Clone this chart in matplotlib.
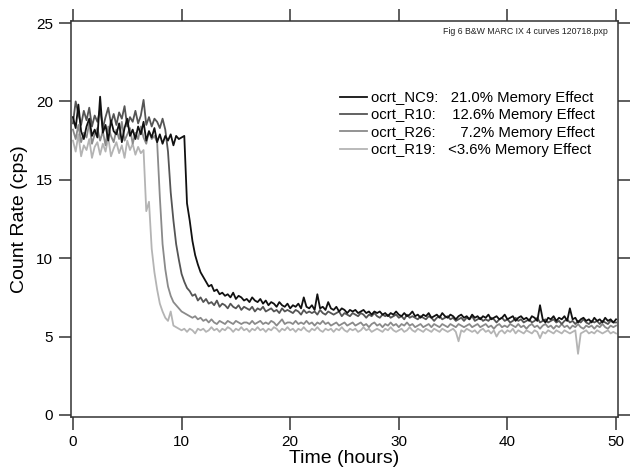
import numpy as np
import matplotlib
matplotlib.use("Agg")
import matplotlib.pyplot as plt

plt.rcParams['font.family'] = ['Liberation Sans', 'DejaVu Sans']

# time axis: readings every 0.25 h from 0 to 50 h
time_h = np.arange(201) * 0.25

# count rates (cps), 2 hours per row
ocrt_NC9 = [
    19.0, 18.3, 19.8, 18.1, 17.6, 18.4, 18.9, 17.8,
    18.2, 17.7, 20.3, 18.0, 18.5, 17.5, 18.8, 18.1,
    17.9, 18.6, 17.4, 18.3, 18.9, 17.8, 18.2, 17.6,
    18.4, 17.9, 18.7, 17.5, 18.1, 17.7, 18.3, 17.4,
    17.9, 17.3, 17.8, 17.5, 17.9, 17.2, 17.8, 17.6,
    17.7, 17.8, 13.5, 12.4, 11.1, 10.2, 9.6, 9.1,
    8.8, 8.5, 8.2, 8.3, 7.9, 8.0, 7.7, 7.8,
    7.6, 7.7, 7.5, 7.8, 7.4, 7.6, 7.5, 7.3,
    7.4, 7.2, 7.5, 7.3, 7.2, 7.4, 7.1, 7.3,
    7.0, 7.2, 7.1, 6.9, 7.2, 7.0, 6.9, 7.1,
    6.8, 7.0, 6.9, 7.1, 6.8, 7.5, 6.9, 6.8,
    7.0, 6.7, 7.7, 6.8, 6.9, 6.7, 7.2, 6.8,
    6.7, 6.9, 6.6, 6.8, 6.7, 6.5, 6.7, 6.6,
    6.7, 6.5, 6.6, 6.7, 6.5, 6.6, 6.4, 6.6,
    6.5, 6.6, 6.4, 6.5, 6.3, 6.5, 6.4, 6.6,
    6.4, 6.3, 6.5, 6.3, 6.4, 6.6, 6.3, 6.4,
    6.2, 6.4, 6.3, 6.5, 6.2, 6.3, 6.4, 6.2,
    6.5, 6.3, 6.2, 6.4, 6.3, 6.1, 6.3, 6.4,
    6.2, 6.3, 6.1, 6.4, 6.2, 6.3, 6.1, 6.3,
    6.2, 6.4, 6.1, 6.2, 6.3, 6.1, 6.2, 6.4,
    6.1, 6.2, 6.3, 6.0, 6.2, 6.3, 6.1, 6.2,
    6.0, 6.3, 6.2, 6.0, 7.0, 6.1, 5.9, 6.2,
    6.1, 6.3, 6.0, 6.2, 6.1, 6.3, 6.0, 6.8,
    6.1, 6.2, 5.9, 6.1, 6.2, 6.0, 6.1, 5.9,
    6.2, 6.0, 6.1, 5.9, 6.2, 6.0, 6.1, 5.9,
    6.1,
]

ocrt_R10 = [
    18.6, 20.0, 19.2, 18.5, 19.4, 18.8, 19.6, 18.4,
    19.1, 18.7, 19.5, 18.3, 19.0, 19.6, 18.6, 19.2,
    18.5, 19.3, 18.9, 19.7, 18.4, 19.0, 18.7, 19.4,
    18.6, 19.1, 20.1, 18.5, 19.0, 18.4, 18.9, 18.7,
    18.3, 18.9, 18.2, 16.8, 14.2, 12.4, 10.9, 9.9,
    9.0, 8.5, 8.1, 7.9, 7.6, 7.7, 7.3, 7.5,
    7.2, 7.4, 7.1, 7.2, 7.0, 7.3, 6.9, 7.1,
    7.0, 6.8, 7.1, 6.9, 6.8, 7.0, 6.7, 6.9,
    6.8, 6.7, 6.9, 6.6, 6.8, 6.7, 6.9, 6.6,
    6.7, 6.8, 6.6, 6.7, 6.5, 6.8, 6.6, 6.7,
    6.6, 6.5, 6.7, 6.6, 6.4, 6.7, 6.5, 6.6,
    6.5, 6.6, 6.4, 6.7, 6.5, 6.4, 6.6, 6.5,
    6.4, 6.5, 6.6, 6.3, 6.5, 6.4, 6.3, 6.5,
    6.4, 6.3, 6.5, 6.4, 6.2, 6.4, 6.3, 6.5,
    6.3, 6.2, 6.4, 6.3, 6.4, 6.2, 6.3, 6.4,
    6.2, 6.3, 6.1, 6.4, 6.2, 6.3, 6.2, 6.1,
    6.3, 6.2, 6.1, 6.3, 6.2, 6.0, 6.2, 6.3,
    6.1, 6.2, 6.3, 6.1, 6.2, 6.0, 6.1, 6.2,
    6.0, 6.2, 6.1, 6.3, 6.0, 6.1, 6.2, 6.0,
    6.1, 6.0, 6.2, 6.1, 5.9, 6.1, 6.2, 6.0,
    6.1, 5.9, 6.0, 6.2, 6.0, 6.1, 5.9, 6.0,
    6.1, 5.9, 6.0, 6.2, 5.9, 6.0, 6.1, 5.9,
    6.0, 6.1, 5.9, 6.0, 5.8, 6.0, 6.1, 5.9,
    6.0, 5.8, 6.0, 5.9, 6.1, 5.9, 5.8, 6.0,
    5.9, 6.0, 5.8, 6.0, 5.9, 5.8, 6.0, 5.9,
    5.9,
]

ocrt_R26 = [
    18.2, 17.6, 18.5, 17.4, 18.0, 17.7, 18.6, 17.3,
    17.9, 18.3, 17.5, 18.1, 17.2, 18.4, 17.8, 17.4,
    18.2, 17.6, 18.7, 17.5, 17.9, 18.3, 17.3, 18.0,
    17.6, 18.4, 17.7, 17.3, 18.1, 17.6, 17.8, 17.4,
    13.9, 10.9, 9.3, 8.2, 7.6, 7.2, 7.0, 6.8,
    6.6, 6.5, 6.4, 6.3, 6.2, 6.3, 6.1, 6.2,
    6.0, 6.1, 5.9, 6.1, 5.9, 5.8, 6.0, 5.9,
    5.8, 6.0, 5.9, 5.8, 6.0, 5.9, 5.8, 5.9,
    5.9, 5.8, 6.0, 5.8, 5.9, 6.0, 5.8, 5.9,
    5.8, 6.0, 5.9, 5.7, 5.9, 6.1, 5.8, 5.9,
    5.9, 5.8, 6.0, 5.8, 5.9, 5.8, 6.0, 5.8,
    5.9, 5.7, 5.9, 5.8, 6.0, 5.8, 5.9, 5.7,
    5.8, 5.9, 5.7, 5.8, 5.9, 5.7, 5.8, 5.9,
    5.7, 5.8, 5.9, 5.7, 5.8, 5.6, 5.8, 5.9,
    5.7, 5.8, 5.6, 5.8, 5.7, 5.9, 5.7, 5.8,
    5.6, 5.8, 5.7, 5.9, 5.7, 5.8, 5.6, 5.7,
    5.8, 5.6, 5.7, 5.8, 5.6, 5.8, 5.7, 5.6,
    5.8, 5.7, 5.6, 5.8, 5.7, 5.6, 5.8, 5.7,
    5.6, 5.7, 5.8, 5.6, 5.7, 5.8, 5.6, 5.7,
    5.8, 5.6, 5.7, 5.5, 5.7, 5.8, 5.6, 5.7,
    5.6, 5.8, 5.7, 5.6, 5.8, 5.6, 5.7, 5.5,
    5.7, 5.8, 5.6, 5.7, 5.5, 5.7, 5.8, 5.6,
    5.7, 5.5, 5.7, 5.6, 5.8, 5.6, 5.7, 5.5,
    5.7, 5.6, 5.8, 5.6, 5.5, 5.7, 5.6, 5.7,
    5.5, 5.7, 5.6, 5.8, 5.6, 5.5, 5.7, 5.6,
    5.7,
]

ocrt_R19 = [
    17.5, 16.8, 17.9, 16.5, 17.2, 16.9, 17.6, 16.4,
    17.1, 17.4, 16.6, 17.3, 16.8, 17.7, 16.5, 17.0,
    17.4, 16.7, 17.2, 16.4, 17.5, 16.9, 17.3, 16.6,
    17.1, 16.7, 16.9, 13.0, 13.6, 10.6, 9.1, 8.0,
    7.1, 6.6, 6.2, 6.0, 6.6, 5.7, 5.6, 5.5,
    5.4, 5.5, 5.3, 5.5, 5.4, 5.2, 5.5, 5.4,
    5.5, 5.3, 5.4, 5.6, 5.4, 5.5, 5.3, 5.5,
    5.4, 5.6, 5.5, 5.3, 5.5, 5.4, 5.6, 5.4,
    5.5, 5.3, 5.5, 5.4, 5.6, 5.4, 5.5, 5.3,
    5.5, 5.4, 5.6, 5.5, 5.3, 5.5, 5.4, 5.6,
    5.4, 5.5, 5.3, 5.5, 5.4, 5.6, 5.4, 5.3,
    5.5, 5.4, 5.6, 5.4, 5.3, 5.5, 5.4, 5.5,
    5.3, 5.5, 5.4, 5.6, 5.4, 5.3, 5.5, 5.4,
    5.5, 5.3, 5.4, 5.6, 5.4, 5.5, 5.3, 5.4,
    5.5, 5.4, 5.3, 5.5, 5.4, 5.6, 5.4, 5.3,
    5.4, 5.5, 5.3, 5.4, 5.6, 5.4, 5.3, 5.5,
    5.4, 5.3, 5.5, 5.4, 5.3, 5.5, 5.4, 5.3,
    5.5, 5.4, 5.3, 5.4, 5.5, 5.3, 4.7, 5.4,
    5.3, 5.5, 5.4, 5.3, 5.4, 5.2, 5.4, 5.5,
    5.3, 5.4, 5.2, 5.4, 5.0, 5.3, 5.4, 5.2,
    5.4, 5.3, 5.5, 5.2, 5.4, 5.3, 5.2, 5.4,
    5.3, 5.2, 5.4, 5.3, 4.9, 5.3, 5.2, 5.4,
    5.3, 5.2, 5.4, 5.3, 5.2, 5.4, 5.3, 5.2,
    5.3, 5.4, 3.9, 5.2, 5.3, 5.4, 5.2, 5.3,
    5.2, 5.4, 5.3, 5.2, 5.3, 5.4, 5.2, 5.3,
    5.2,
]

labels = [
    "ocrt_NC9:   21.0% Memory Effect",
    "ocrt_R10:    12.6% Memory Effect",
    "ocrt_R26:      7.2% Memory Effect",
    "ocrt_R19:   <3.6% Memory Effect",
]
series = [ocrt_NC9, ocrt_R10, ocrt_R26, ocrt_R19]
colors = ['#111111', '#555555', '#8a8a8a', '#b4b4b4']

fig = plt.figure(figsize=(6.3, 4.75), dpi=100)
ax = fig.add_axes([71 / 630, 1 - 417 / 475, 547 / 630, 396 / 475])

# draw lightest first so black ends on top
handles = []
for ys, c, lab in reversed(list(zip(series, colors, labels))):
    h, = ax.plot(time_h, ys, color=c, lw=1.3, label=lab)
    handles.append(h)
handles = handles[::-1]

ax.set_xlim(-0.18, 50.18)
ax.set_ylim(-0.13, 25.13)
ax.set_xticks(range(0, 51, 10))
ax.set_yticks(range(0, 26, 5))
ax.tick_params(direction='out', length=9, width=1.1, color='#333333',
               labelsize=11, top=True, right=True, pad=4)
for s in ax.spines.values():
    s.set_color('#333333')
    s.set_linewidth(1.1)

ax.set_xlabel('Time (hours)', fontsize=14, labelpad=1)
ax.set_ylabel('Count Rate (cps)', fontsize=14, labelpad=6)

ax.legend(handles, labels, loc='upper right', frameon=False, fontsize=10.7,
          bbox_to_anchor=(595 / 630, 1 - 91 / 475), bbox_transform=fig.transFigure,
          borderpad=0, borderaxespad=0, labelspacing=0.22,
          handlelength=1.8, handletextpad=0.3)

fig.text(608 / 630, 1 - 31 / 475, 'Fig 6 B&W MARC IX 4 curves 120718.pxp',
         fontsize=6.3, ha='right', va='center', color='#222222')

fig.savefig('out.png', dpi=100)
